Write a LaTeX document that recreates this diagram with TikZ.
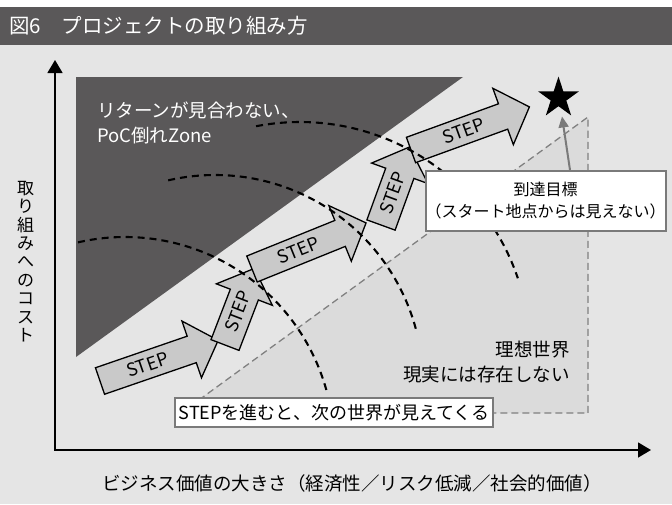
\documentclass[tikz,border=0pt]{standalone}
\usepackage{fontspec}
\setmainfont{Noto Sans CJK JP}
\usetikzlibrary{arrows.meta,shapes.geometric,calc}
\definecolor{darkbg}{HTML}{5A5859}
\definecolor{lightbg}{HTML}{E5E5E5}
\definecolor{idealbg}{HTML}{DBDBDB}
\definecolor{arrowfill}{HTML}{C9C9C9}
\definecolor{boxline}{HTML}{7A7A7A}
\definecolor{idealline}{HTML}{808080}
\newcommand\steparrow[7]{%
 \begin{scope}[shift={(#2,#3)},rotate=#4]
  \draw[arrowshape] (0,-#6) -- (#5,-#6) -- (#5,-30) -- ({#5+28},0) -- (#5,30) -- (#5,#6) -- (0,#6) -- cycle;
  \node[steplabel,rotate=#4] (#1) at (#7,0) {STEP};
 \end{scope}}
\begin{document}
\begin{tikzpicture}[x=1pt,y=-1pt,
  arrowshape/.style={fill=arrowfill,draw=black,line width=1.3pt,line join=miter},
  steplabel/.style={inner sep=0pt,font=\fontsize{18}{20}\selectfont},
  arcdash/.style={draw=black,line width=2.1pt,dash pattern=on 7pt off 5pt},
  wbox/.style={fill=white,draw=boxline,line width=2pt,inner sep=0pt,align=center},
  axisline/.style={line width=1.5pt,{Triangle[length=13pt,width=15pt]}-{Triangle[length=13pt,width=15pt]}},
  goalarrow/.style={draw=boxline,line width=2pt,-{Triangle[length=11pt,width=10pt]}},
  idealarea/.style={fill=idealbg,draw=idealline,line width=1.3pt,dash pattern=on 7pt off 4pt}]
\useasboundingbox (0,0) rectangle (672,504);
\fill[white] (0,0) rectangle (672,7);
\fill[darkbg] (0,7) rectangle (672,45);
\fill[lightbg] (0,45) rectangle (672,504);
\node[anchor=west,text=white,inner sep=0pt,font=\fontsize{20.5}{24}\selectfont] (title) at (9,26) {図6　プロジェクトの取り組み方};
% zones
\fill[darkbg] (76,77) -- (463,77) -- (76,357) -- cycle;
\path[idealarea] (181,413) -- (588,117) -- (588,413) -- cycle;
\node[anchor=west,align=left,text=white,inner sep=0pt,font=\fontsize{18.5}{25.5}\selectfont] (poc) at (97,123) {リターンが見合わない、\\PoC倒れZone};
\node[anchor=east,align=right,inner sep=0pt,font=\fontsize{18.5}{25}\selectfont] (ideal) at (570,362.5) {理想世界\\現実には存在しない};
% axes
\coordinate (ytop) at (55,60);
\coordinate (origin) at (55,450);
\coordinate (xend) at (651,450);
\draw[axisline] (ytop) -- (origin) -- (xend);
\node[font=\fontsize{18.5}{22}\selectfont,inner sep=0pt] (xlabel) at (352,483) {ビジネス価値の大きさ（経済性／リスク低減／社会的価値）};
\node[font=\fontsize{17}{18.4}\selectfont,align=center,inner sep=0pt] (ylabel) at (25.5,261.5) {取\\り\\組\\み\\へ\\の\\コ\\ス\\ト};
% step arrows
\steparrow{s1}{100}{381}{19}{97}{14}{50}
\steparrow{s2}{225}{345}{69}{54}{15}{36}
\steparrow{s3}{252}{269}{22}{95}{14}{50}
\steparrow{s4}{381}{225}{70}{55}{15}{34}
\steparrow{s5}{411}{150}{20}{98}{13.5}{56}
% dashed horizons
\draw[arcdash] plot[domain=101:18.7,samples=90] ({300+230*cos(\x)},{352-230*sin(\x)});
\draw[arcdash] plot[domain=103:14,samples=90] ({215+208*cos(\x)},{383-208*sin(\x)});
\draw[arcdash] plot[domain=103:14.7,samples=90] ({125+209*cos(\x)},{446-209*sin(\x)});
% boxes
\node[wbox,minimum width=229pt,minimum height=60pt,font=\fontsize{16}{22}\selectfont] (goal) at (545.5,201) {到達目標\\（スタート地点からは見えない）};
\node[wbox,minimum width=318pt,minimum height=29pt,font=\fontsize{18}{20}\selectfont] (stepnote) at (334,412.5) {STEPを進むと、次の世界が見えてくる};
% goal star
\node[star,star points=5,star point ratio=2.618,minimum size=43pt,inner sep=0pt,fill=black] (star) at (558.5,98) {};
\draw[goalarrow] ([xshift=24.5pt]goal.north) -- ([xshift=3.5pt,yshift=-10pt]star.south);
\end{tikzpicture}
\end{document}
